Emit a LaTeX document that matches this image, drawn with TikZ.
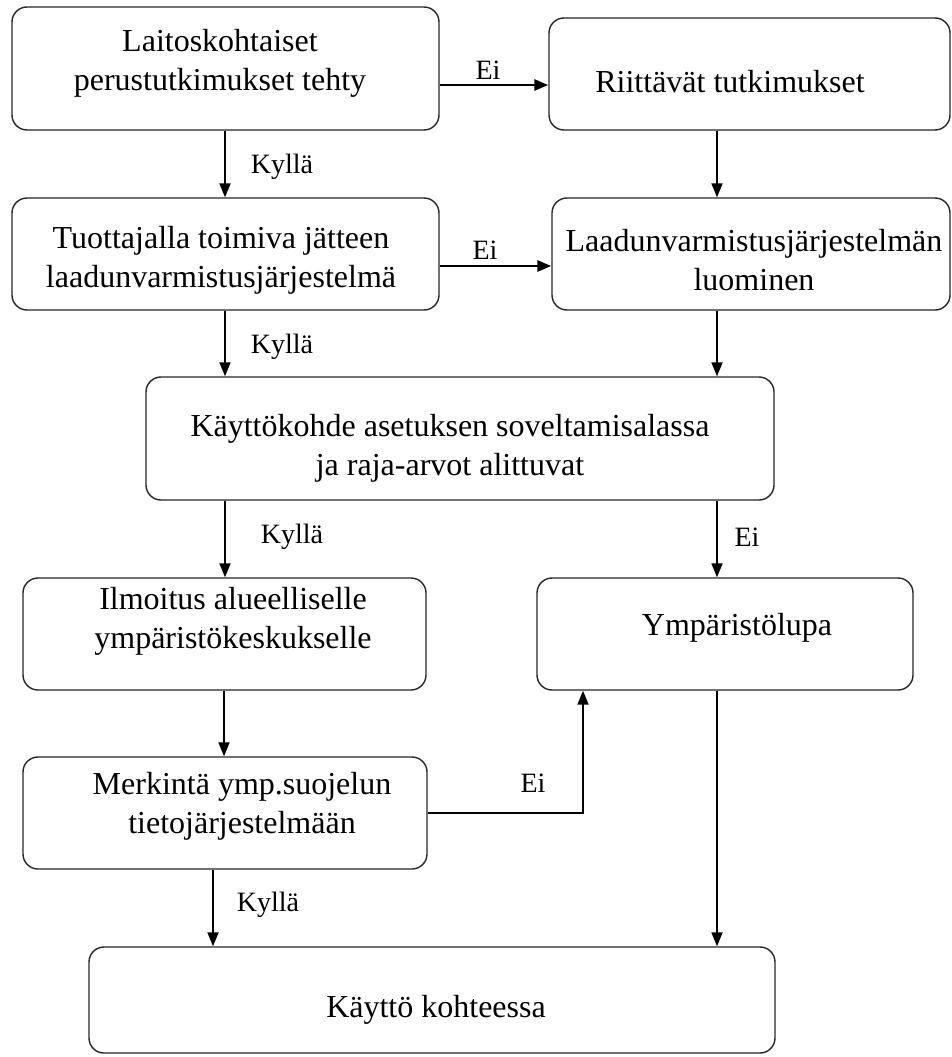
\documentclass[tikz,border=0pt]{standalone}
\usepackage{fontspec}
\setmainfont{Liberation Serif}
\usetikzlibrary{arrows.meta}
\begin{document}
\begin{tikzpicture}[x=1pt,y=-1pt,
  box/.style={draw=black!85, line width=1.4pt, rounded corners=15pt, inner sep=0pt},
  txt/.style={align=center, inner sep=0pt, font=\fontsize{32}{39}\selectfont},
  lbl/.style={inner sep=0pt, font=\fontsize{28}{32}\selectfont},
  conn/.style={line width=1.8pt, -{Triangle[length=14pt,width=11pt]}},
  thick conn/.style={conn, line width=2.8pt}]
\useasboundingbox (0,0) rectangle (951,1057);
% boxes
\node[box, minimum width=427pt, minimum height=123pt] (b1) at (225.5,68.5) {};
\node[box, minimum width=401pt, minimum height=112pt] (b2) at (749.5,74) {};
\node[box, minimum width=427pt, minimum height=112pt] (b3) at (225.5,254) {};
\node[box, minimum width=398pt, minimum height=112pt] (b4) at (751,254) {};
\node[box, minimum width=628pt, minimum height=123pt] (b5) at (460,438.5) {};
\node[box, minimum width=403pt, minimum height=112pt] (b6) at (224.5,634) {};
\node[box, minimum width=376pt, minimum height=112pt] (b7) at (725,634) {};
\node[box, minimum width=404pt, minimum height=112pt] (b8) at (225,813) {};
\node[box, minimum width=686pt, minimum height=106pt] (b9) at (432,1000) {};
% texts
\node[txt] (t1) at (220,63) {Laitoskohtaiset\\perustutkimukset tehty};
\node[txt] (t2) at (730,82) {Riittävät tutkimukset};
\node[txt] (t3) at (221,260) {Tuottajalla toimiva jätteen\\laadunvarmistusjärjestelmä};
\node[txt] (t4) at (754,260) {Laadunvarmistusjärjestelmän\\luominen};
\node[txt] (t5) at (450,448) {Käyttökohde asetuksen soveltamisalassa\\ja raja-arvot alittuvat};
\node[txt] (t6) at (233,621) {Ilmoitus alueelliselle\\ympäristökeskukselle};
\node[txt] (t7) at (737,628) {Ympäristölupa};
\node[txt] (t8) at (242,806) {Merkintä ymp.suojelun\\tietojärjestelmään};
\node[txt] (t9) at (436,1010) {Käyttö kohteessa};
% connectors
\draw[thick conn] (b1.east |- 0,85) -- (b2.west |- 0,85);
\draw[conn] (b1.south -| 225,0) -- (b3.north -| 225,0);
\draw[conn] (b2.south -| 717,0) -- (b4.north -| 717,0);
\draw[thick conn] (b3.east |- 0,266) -- (b4.west |- 0,266);
\draw[conn] (b3.south -| 225,0) -- (b5.north -| 225,0);
\draw[conn] (b4.south -| 717,0) -- (b5.north -| 717,0);
\draw[conn] (b5.south -| 225,0) -- (b6.north -| 225,0);
\draw[conn] (b5.south -| 717,0) -- (b7.north -| 717,0);
\draw[conn] (b6.south -| 224,0) -- (b8.north -| 224,0);
\draw[conn] (b8.east |- 0,813) -| (b7.south -| 583,0);
\draw[conn] (b8.south -| 213,0) -- (b9.north -| 213,0);
\draw[conn] (b7.south -| 717,0) -- (b9.north -| 717,0);
% labels
\node[lbl] (l1) at (488,70) {Ei};
\node[lbl] (l2) at (282,167) {Kyllä};
\node[lbl] (l3) at (485,250) {Ei};
\node[lbl] (l4) at (282,347) {Kyllä};
\node[lbl] (l5) at (292,537) {Kyllä};
\node[lbl] (l6) at (747,537) {Ei};
\node[lbl] (l7) at (533,783) {Ei};
\node[lbl] (l8) at (268,905) {Kyllä};
\end{tikzpicture}
\end{document}
